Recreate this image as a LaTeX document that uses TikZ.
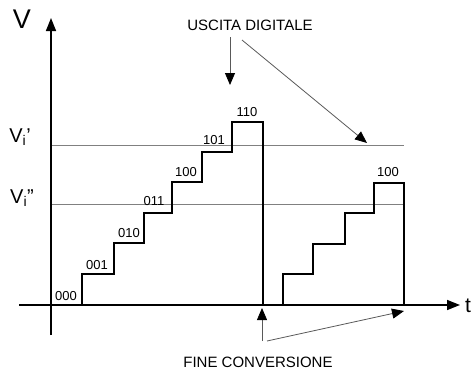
\documentclass[tikz,border=0pt]{standalone}
\usepackage{fontspec}
\setmainfont{Liberation Sans}
\usetikzlibrary{arrows.meta}
\begin{document}
\begin{tikzpicture}[x=1pt,y=-1pt,
  axis/.style={line width=1.5pt,-{Triangle[length=13pt,width=10pt]}},
  stair/.style={line width=2.5pt,line join=miter},
  level/.style={gray,line width=0.8pt},
  pointer/.style={gray!70!black,line width=0.8pt,-{Triangle[length=12pt,width=10pt,black]}},
  code/.style={font=\fontsize{13}{14}\selectfont,inner sep=0pt},
  caption/.style={font=\fontsize{15}{16}\selectfont,inner sep=0pt},
  vlab/.style={font=\fontsize{20}{22}\selectfont,inner sep=0pt}]
\useasboundingbox (0,0) rectangle (472,373);
% coordinates
\coordinate (ybot) at (51,335);
\coordinate (ytop) at (51,18);
\coordinate (xl) at (19,305);
\coordinate (xr) at (460,305);
% level lines
\coordinate (l1a) at (51,145);
\coordinate (l1b) at (404,145);
\coordinate (l2a) at (51,204);
\coordinate (l2b) at (404,204);
\draw[level] (l1a) -- (l1b);
\draw[level] (l2a) -- (l2b);
% axes
\draw[axis] (ybot) -- (ytop);
\draw[axis] (xl) -- (xr);
% staircase 1
\draw[stair] (82,305) -- (82,274) -- (114,274) -- (114,243) -- (144,243) -- (144,213)
  -- (172,213) -- (172,182) -- (202,182) -- (202,152) -- (232,152) -- (232,122)
  -- (263,122) -- (263,305);
% staircase 2
\draw[stair] (283,305) -- (283,274) -- (313,274) -- (313,244) -- (345,244) -- (345,213)
  -- (374,213) -- (374,183) -- (404,183) -- (404,305);
% code labels
\node[code] (c000) at (66,296) {000};
\node[code] (c001) at (97,265) {001};
\node[code] (c010) at (129,233) {010};
\node[code] (c011) at (154,201) {011};
\node[code] (c100) at (186,172) {100};
\node[code] (c101) at (214,140) {101};
\node[code] (c110) at (247,112) {110};
\node[code] (d100) at (388,172) {100};
% axis labels
\node[font=\fontsize{27}{29}\selectfont,inner sep=0pt] (V) at (22,19) {V};
\node[vlab] (Vi1) at (20,137) {V$_{\mathrm{i}}$'};
\node[vlab] (Vi2) at (22,198) {V$_{\mathrm{i}}$''};
\node[font=\fontsize{21}{22}\selectfont,inner sep=0pt,anchor=west] (t) at (465,306) {t};
% captions
\node[caption] (usc) at (250,25) {USCITA DIGITALE};
\node[caption] (fine) at (258,362) {FINE CONVERSIONE};
% pointers
\coordinate (p1s) at (230,37);
\coordinate (p1e) at (230,85);
\coordinate (p2s) at (242,40);
\coordinate (p2e) at (367,143);
\coordinate (p3s) at (262,341);
\coordinate (p3e) at (262,308);
\coordinate (p4s) at (267,341);
\coordinate (p4e) at (404,311);
\draw[pointer] (p1s) -- (p1e);
\draw[pointer] (p2s) -- (p2e);
\draw[pointer] (p3s) -- (p3e);
\draw[pointer] (p4s) -- (p4e);
\end{tikzpicture}
\end{document}
